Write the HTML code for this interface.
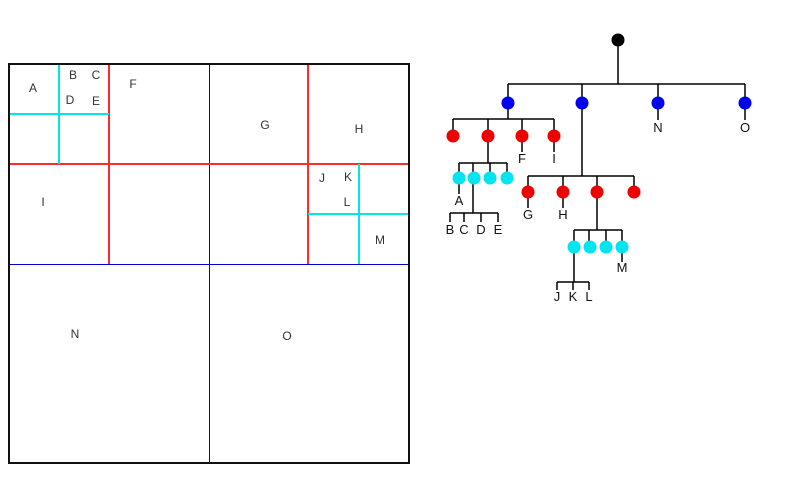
<!DOCTYPE html>
<html><head><meta charset="utf-8"><style>
html,body{margin:0;padding:0;background:#fff;width:786px;height:481px;overflow:hidden}
svg text{font-family:"Liberation Sans",sans-serif}
</style></head><body>
<svg width="786" height="481" viewBox="0 0 786 481">
<g>
  <line x1="209.5" y1="64" x2="209.5" y2="463" stroke="#0000cc" stroke-width="1"/>
  <line x1="9" y1="264.5" x2="409" y2="264.5" stroke="#0000cc" stroke-width="1"/>
  <g stroke="#ff2a2a" stroke-width="2">
    <line x1="109" y1="64" x2="109" y2="264"/>
    <line x1="9" y1="164" x2="209" y2="164"/>
    <line x1="209" y1="164" x2="409" y2="164"/>
    <line x1="308" y1="64" x2="308" y2="264"/>
  </g>
  <g stroke="#00e5e5" stroke-width="2">
    <line x1="59" y1="64" x2="59" y2="164"/>
    <line x1="9" y1="114" x2="109" y2="114"/>
    <line x1="359" y1="164" x2="359" y2="264"/>
    <line x1="308" y1="214" x2="409" y2="214"/>
  </g>
  <rect x="9" y="64" width="400" height="399" fill="none" stroke="#111" stroke-width="2"/>
  <g font-size="12" fill="#333" text-anchor="middle">
    <text x="33" y="92">A</text><text x="73" y="79">B</text><text x="96" y="79">C</text>
    <text x="70" y="104">D</text><text x="96" y="105">E</text><text x="133" y="88">F</text>
    <text x="265" y="129">G</text><text x="359" y="133">H</text><text x="43" y="206">I</text>
    <text x="322" y="182">J</text><text x="348" y="181">K</text><text x="347" y="206">L</text>
    <text x="380" y="244">M</text><text x="75" y="338">N</text><text x="287" y="340">O</text>
  </g>
</g>
<g stroke="#000" stroke-width="1.5" fill="none">
  <path d="M618 40V84M508 84H745M508 84V103M582 84V103M658 84V103M745 84V103M658 103V120M745 103V120"/>
  <path d="M508 103V119M453 119H554M453 119V136M488 119V136M522 119V136M554 119V136M522 136V152M554 136V152"/>
  <path d="M488 136V163M459 163H507M459 163V178M473 163V178M490 163V178M507 163V178M459 178V194"/>
  <path d="M473 178V213M450 213H498M450 213V222M464 213V222M481 213V222M498 213V222"/>
  <path d="M582 103V176M528 176H634M528 176V192M563 176V192M597 176V192M634 176V192M528 192V208M563 192V208"/>
  <path d="M597 192V230M574 230H622M574 230V247M589 230V247M606 230V247M622 230V247M622 247V262"/>
  <path d="M574 247V282M557 282H589M557 282V290M573 282V290M589 282V290"/>
</g>
<g>
  <circle cx="618" cy="40" r="6.5" fill="#000"/>
  <g fill="#0000ee">
    <circle cx="508" cy="103" r="6.5"/><circle cx="582" cy="103" r="6.5"/><circle cx="658" cy="103" r="6.5"/><circle cx="745" cy="103" r="6.5"/>
  </g>
  <g fill="#ee0000">
    <circle cx="453" cy="136" r="6.5"/><circle cx="488" cy="136" r="6.5"/><circle cx="522" cy="136" r="6.5"/><circle cx="554" cy="136" r="6.5"/>
    <circle cx="528" cy="192" r="6.5"/><circle cx="563" cy="192" r="6.5"/><circle cx="597" cy="192" r="6.5"/><circle cx="634" cy="192" r="6.5"/>
  </g>
  <g fill="#00e5ee">
    <circle cx="459" cy="178" r="6.5"/><circle cx="474" cy="178" r="6.5"/><circle cx="490" cy="178" r="6.5"/><circle cx="507" cy="178" r="6.5"/>
    <circle cx="574" cy="247" r="6.5"/><circle cx="590" cy="247" r="6.5"/><circle cx="606" cy="247" r="6.5"/><circle cx="622" cy="247" r="6.5"/>
  </g>
</g>
<g font-size="13" fill="#111" text-anchor="middle">
  <text x="658" y="132">N</text><text x="745" y="132">O</text>
  <text x="522" y="163">F</text><text x="554" y="163">I</text>
  <text x="459" y="205">A</text>
  <text x="450" y="234">B</text><text x="464" y="234">C</text><text x="481" y="234">D</text><text x="498" y="234">E</text>
  <text x="528" y="219">G</text><text x="563" y="219">H</text>
  <text x="622" y="272">M</text>
  <text x="557" y="301">J</text><text x="573" y="301">K</text><text x="589" y="301">L</text>
</g>
</svg>
</body></html>
